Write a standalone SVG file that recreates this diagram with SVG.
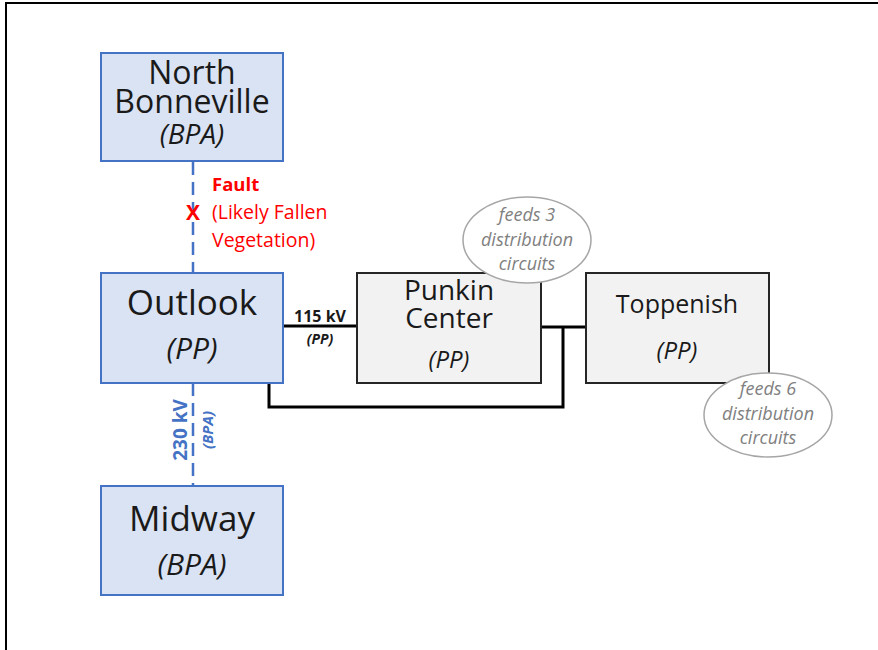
<svg xmlns="http://www.w3.org/2000/svg" width="878" height="650" viewBox="0 0 878 650">
<style>
.t{font-family:"Open Sans","Liberation Sans",sans-serif;fill:#1a1a1a;text-anchor:middle}
.i{font-style:italic}
.blue{fill:#dae3f3;stroke:#4472c4;stroke-width:2}
.grey{fill:#f2f2f2;stroke:#262626;stroke-width:2}
.bus{fill:none;stroke:#000;stroke-width:3}
.dash{fill:none;stroke:#4472c4;stroke-width:2.5;stroke-dasharray:13 7}
.note{fill:#fff;stroke:#a6a6a6;stroke-width:1.5}
.nt{font-family:"Open Sans","Liberation Sans",sans-serif;font-style:italic;fill:#808080;text-anchor:middle;font-size:18px}
.red{font-family:"Open Sans","Liberation Sans",sans-serif;fill:#ff0000}
</style>
<rect x="6" y="3" width="900" height="700" fill="#fff" stroke="#000" stroke-width="2"/>
<g id="connectors">
<line class="dash" x1="193" y1="162" x2="193" y2="273"/>
<line class="dash" x1="193" y1="383" x2="193" y2="486"/>
<line class="bus" x1="283" y1="326" x2="357" y2="326"/>
<line class="bus" x1="541" y1="327" x2="586" y2="327"/>
<polyline class="bus" points="563,327 563,407 269,407 269,383"/>
<text class="t" x="320" y="322" font-size="16" font-weight="bold">115 kV</text>
<text class="t i" x="320" y="344" font-size="14" font-weight="bold">(PP)</text>
<text font-family="Open Sans, Liberation Sans, sans-serif" fill="#4472c4" font-weight="bold" font-size="19" text-anchor="middle" transform="translate(187,430) rotate(-90)">230 kV</text>
<text font-family="Open Sans, Liberation Sans, sans-serif" fill="#4472c4" font-weight="bold" font-style="italic" font-size="15" text-anchor="middle" transform="translate(213,430) rotate(-90)">(BPA)</text>
<text class="red" x="193" y="220" font-size="21" font-weight="bold" text-anchor="middle">X</text>
<text class="red" x="212" y="191" font-size="18.5" font-weight="bold">Fault</text>
<text class="red" x="212" y="219" font-size="19.5">(Likely Fallen</text>
<text class="red" x="212" y="247" font-size="19.5">Vegetation)</text>
</g>
<g id="north-bonneville">
<rect class="blue" x="101" y="53" width="182" height="108"/>
<text class="t" x="192" y="84" font-size="32">North</text>
<text class="t" x="192" y="113" font-size="32">Bonneville</text>
<text class="t i" x="192" y="144" font-size="28">(BPA)</text>
</g>
<g id="outlook">
<rect class="blue" x="101" y="273" width="182" height="110"/>
<text class="t" x="192" y="315" font-size="35">Outlook</text>
<text class="t i" x="192" y="359" font-size="30">(PP)</text>
</g>
<g id="midway">
<rect class="blue" x="101" y="486" width="182" height="109"/>
<text class="t" x="192" y="531" font-size="35">Midway</text>
<text class="t i" x="192" y="575" font-size="30">(BPA)</text>
</g>
<g id="punkin-center">
<rect class="grey" x="357" y="273" width="184" height="110"/>
<text class="t" x="449" y="300" font-size="28">Punkin</text>
<text class="t" x="449" y="328" font-size="28">Center</text>
<text class="t i" x="449" y="368" font-size="24">(PP)</text>
</g>
<g id="toppenish">
<rect class="grey" x="586" y="273" width="183" height="110"/>
<text class="t" x="677" y="313" font-size="25">Toppenish</text>
<text class="t i" x="677" y="359" font-size="24">(PP)</text>
</g>
<g id="note-punkin">
<ellipse class="note" cx="527" cy="240" rx="64" ry="43"/>
<text class="nt" x="527" y="221">feeds 3</text>
<text class="nt" x="527" y="246">distribution</text>
<text class="nt" x="527" y="270">circuits</text>
</g>
<g id="note-toppenish">
<ellipse class="note" cx="768" cy="415" rx="64" ry="42"/>
<text class="nt" x="768" y="395">feeds 6</text>
<text class="nt" x="768" y="420">distribution</text>
<text class="nt" x="768" y="444">circuits</text>
</g>
</svg>
